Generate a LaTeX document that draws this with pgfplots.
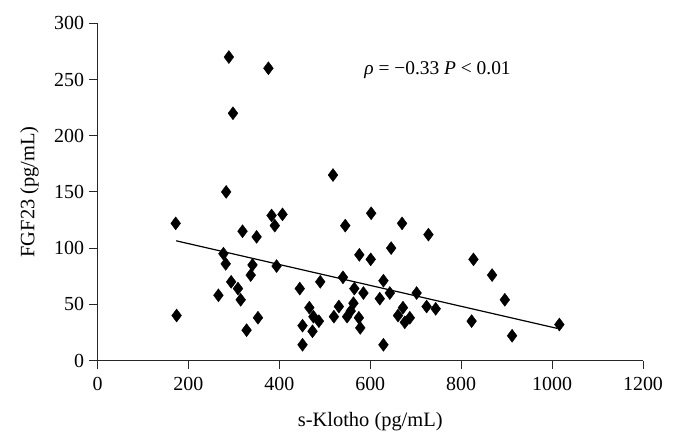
\documentclass[border=0pt]{standalone}
\usepackage{pgfplots}
\pgfplotsset{compat=1.18}
\usepackage{fontspec}
\setmainfont{Liberation Serif}
\begin{document}
\begin{tikzpicture}
\useasboundingbox (-97.5bp,-84.5bp) rectangle (576.5bp,360.5bp);
\begin{axis}[
  at={(0,0)}, anchor=origin,
  scale only axis, width=545.5bp, height=337.2bp,
  xmin=0, xmax=1200, ymin=0, ymax=300,
  axis lines=left, axis line style={-, line width=1bp, black!85},
  tick align=outside, major tick length=8.5bp,
  tick style={black!85, line width=1bp},
  xtick={0,200,...,1200}, ytick={0,50,...,300},
  /pgf/number format/assume math mode=true,
  /pgf/number format/1000 sep={},
  ticklabel style={font=\fontsize{20}{24}\selectfont},
  xticklabel style={yshift=-5bp},
  yticklabel style={xshift=-1.5bp},
  label style={font=\fontsize{20.5}{24}\selectfont},
  xlabel={s-Klotho (pg/mL)},
  ylabel={FGF23 (pg/mL)},
  xlabel style={at={([yshift=-66bp]axis description cs:0.5,0)}, anchor=base},
  ylabel style={at={([xshift=-63bp]axis description cs:0,0.5)}, anchor=base},
  clip=false,
]
\addplot[only marks, mark=diamond*, mark size=6.5bp, mark options={fill=black, draw=black}] coordinates {
(172,122) (174,40) (266,58) (277,95) (282,86) (283,150) (289,270) (294,70)
(298,220) (309,64) (315,54) (319,115) (328,27) (337,76) (341,85) (350,110)
(353,38) (376,260) (383,129) (390,120) (394,84) (407,130) (445,64) (451,31)
(451,14) (466,47) (473,26) (475,39) (487,35) (490,70) (518,165) (520,39)
(531,48) (540,74) (545,120) (549,39) (557,44) (563,51) (565,64) (575,38)
(576,94) (578,29) (585,60) (601,90) (602,131) (621,55) (629,71) (629,14)
(643,60) (646,100) (661,40) (670,122) (672,47) (676,34) (687,38) (702,60)
(724,48) (728,112) (744,46) (823,35) (827,90) (868,76) (896,54) (912,22)
(1016,32)
};
\addplot[black, line width=1.2bp, no marks] coordinates {(173,106.5) (1011,28.6)};
\node[font=\fontsize{19.5}{22}\selectfont] at (axis cs:748,258) {\textit{ρ} = −0.33 \textit{P} < 0.01};
\end{axis}
\end{tikzpicture}
\end{document}
